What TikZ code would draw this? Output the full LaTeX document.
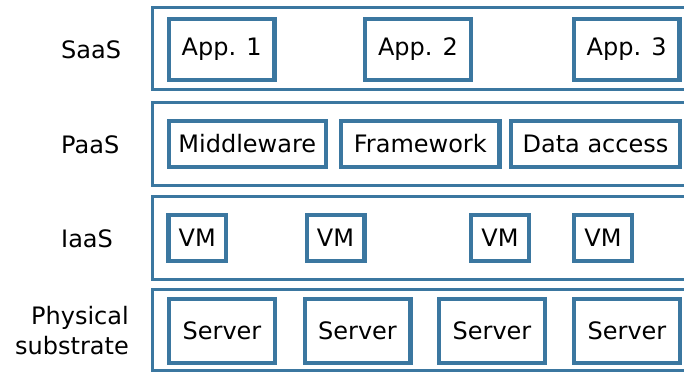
\documentclass[tikz,border=0pt]{standalone}
\usepackage{fontspec}
\setmainfont{DejaVu Sans}
\definecolor{steel}{RGB}{59,119,160}
\begin{document}
\begin{tikzpicture}[x=1pt,y=-1pt,
  layer/.style={draw=steel,line width=3pt},
  box/.style={draw=steel,line width=4.3pt,fill=white,inner sep=0pt,
    font=\fontsize{24}{30}\selectfont},
  lbl/.style={inner sep=0pt,font=\fontsize{24}{30}\selectfont},
  appbox/.style={box,minimum width=105.7pt,minimum height=60.7pt},
  pbox/.style={box,minimum height=45.7pt},
  vmbox/.style={box,minimum width=57.7pt,minimum height=45.7pt},
  srvbox/.style={box,minimum width=105.7pt,minimum height=63.7pt}]
\useasboundingbox (0,0) rectangle (684,372);
\clip (0,0) rectangle (684,372);
% layers
\draw[layer] (152.5,7.5) rectangle (720,89.5);
\draw[layer] (152.5,102) rectangle (720,185);
\draw[layer] (152.5,196) rectangle (720,279);
\draw[layer] (152.5,289) rectangle (720,370.5);
% labels
\node[lbl,anchor=base west] (saas) at (61,58) {SaaS};
\node[lbl,anchor=base west] (paas) at (61,153) {PaaS};
\node[lbl,anchor=base west] (iaas) at (61,247) {IaaS};
\node[lbl,anchor=north east,align=right,font=\fontsize{24}{30}\selectfont] (phys) at (129,306) {Physical\\substrate};
% SaaS
\node[appbox] (app1) at (221.7,49.5) {App. 1};
\node[appbox] (app2) at (418,49.5) {App. 2};
\node[appbox] (app3) at (626.7,49.5) {App. 3};
% PaaS
\node[pbox,minimum width=157pt] (mw) at (247.3,144) {Middleware};
\node[pbox,minimum width=158.4pt] (fw) at (420.3,144) {Framework};
\node[pbox,minimum width=168.7pt] (da) at (595.5,144) {Data access};
% IaaS
\node[vmbox] (vm1) at (197.3,238) {VM};
\node[vmbox] (vm2) at (335.5,238) {VM};
\node[vmbox] (vm3) at (500,238) {VM};
\node[vmbox] (vm4) at (603,238) {VM};
% Physical
\node[srvbox] (s1) at (222,331) {Server};
\node[srvbox] (s2) at (357.5,331) {Server};
\node[srvbox] (s3) at (492,331) {Server};
\node[srvbox] (s4) at (627,331) {Server};
\end{tikzpicture}
\end{document}
